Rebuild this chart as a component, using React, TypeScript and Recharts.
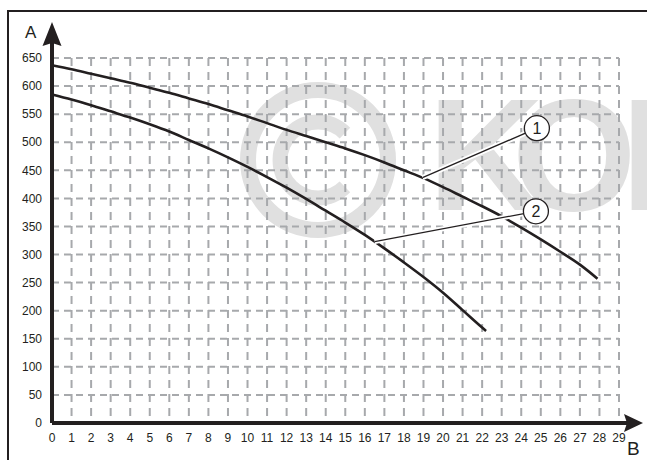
import { CartesianGrid, Line, LineChart, ReferenceDot, ReferenceLine, XAxis, YAxis } from 'recharts'

const INK = '#231f20'
const GRID = '#a7a9ac'
const MARK = '#e0e0e0'
const FONT = '"Liberation Sans", Arial, Helvetica, sans-serif'

// axis ticks
const flowTicks = [0, 1, 2, 3, 4, 5, 6, 7, 8, 9, 10, 11, 12, 13, 14, 15, 16, 17, 18, 19, 20, 21, 22, 23, 24, 25, 26, 27, 28, 29]
const headTicks = [0, 50, 100, 150, 200, 250, 300, 350, 400, 450, 500, 550, 600, 650]

// curve 1 (upper)
const curve1Flow = [0, 1, 2, 3, 4, 5, 6, 7, 8, 9, 10, 11, 12, 13, 14, 15, 16, 17, 18, 19, 20, 21, 22, 23, 24, 25, 26, 27, 27.9]
const curve1Head = [637, 630, 622, 614, 606, 597, 588, 578, 568, 557, 546, 534, 522, 511, 500, 489, 477, 464, 450, 436, 420, 403, 386, 368, 348, 327, 305, 282, 257]

// curve 2 (lower)
const curve2Flow = [0, 1, 2, 3, 4, 5, 6, 7, 8, 9, 10, 11, 12, 13, 14, 15, 16, 17, 18, 19, 20, 21, 22, 22.2]
const curve2Head = [585, 576, 566, 555, 544, 532, 519, 504, 489, 473, 456, 438, 419, 399, 378, 357, 335, 311, 286, 260, 232, 201, 170, 164]

// callouts: label, point on the curve, bubble
const calloutText = ['1', '2']
const calloutAtFlow = [18.95, 16.5]
const calloutAtHead = [437, 323]
const calloutBubbleFlow = [24.8, 24.75]
const calloutBubbleHead = [525, 377]

const curve1 = curve1Flow.map((q, i) => ({ q, h: curve1Head[i] }))
const curve2 = curve2Flow.map((q, i) => ({ q, h: curve2Head[i] }))

const tick = { fill: INK, fontSize: 12, fontFamily: FONT }

function UpArrow(props: any) {
  const { cx, cy } = props
  return (
    <g>
      <line x1={cx} y1={cy + 2} x2={cx} y2={cy - 16} stroke={INK} strokeWidth={4} />
      <polygon points={`${cx},${cy - 36} ${cx - 9.5},${cy - 12} ${cx},${cy - 15} ${cx + 9.5},${cy - 12}`} fill={INK} />
      <text x={cx - 27} y={cy - 20} fontSize={17} fontFamily={FONT} fill={INK}>A</text>
    </g>
  )
}

function RightArrow(props: any) {
  const { cx, cy } = props
  return (
    <g>
      <line x1={cx - 2} y1={cy} x2={cx + 8} y2={cy} stroke={INK} strokeWidth={4} />
      <polygon points={`${cx + 24},${cy} ${cx + 5},${cy - 9} ${cx + 8},${cy} ${cx + 5},${cy + 9}`} fill={INK} />
      <text x={cx + 8} y={cy + 32} fontSize={19} fontFamily={FONT} fill={INK}>B</text>
    </g>
  )
}

function Watermark() {
  return (
    <svg width={647} height={460} style={{ position: 'absolute', left: 0, top: 0 }}>
      <circle cx={318} cy={160} r={70} fill="none" stroke={MARK} strokeWidth={16} />
      <path d="M 344.9 133.1 A 38 38 0 1 0 344.9 186.9" fill="none" stroke={MARK} strokeWidth={15} />
      <g fontFamily={FONT} fontWeight="bold" fontSize={160} fill={MARK}>
        <text x={428} y={210}>K</text>
        <text x={512} y={210}>O</text>
        <text x={621} y={210}>N</text>
      </g>
    </svg>
  )
}

export default function App() {
  return (
    <div style={{ position: 'absolute', left: 0, top: 0, width: 647, height: 460, background: '#fff', overflow: 'hidden' }}>
      <Watermark />
      <div
        style={{
          position: 'absolute',
          left: 7,
          top: 10,
          width: 700,
          height: 500,
          borderTop: `2px solid ${INK}`,
          borderLeft: `2px solid ${INK}`,
        }}
      />
      <div style={{ position: 'absolute', left: 0, top: 0 }}>
        <LineChart width={647} height={460} margin={{ top: 58, right: 28, left: 0, bottom: 0 }}>
          <CartesianGrid horizontal vertical={false} stroke={GRID} strokeWidth={2} strokeDasharray="7 5" />
          <CartesianGrid horizontal={false} vertical stroke={GRID} strokeWidth={2} strokeDasharray="8 6" />
          <XAxis
            type="number"
            dataKey="q"
            domain={[0, 29]}
            ticks={flowTicks}
            interval={0}
            tick={tick}
            tickLine={false}
            tickMargin={4}
            axisLine={{ stroke: INK, strokeWidth: 4 }}
            height={37}
            allowDuplicatedCategory={false}
          />
          <YAxis
            type="number"
            dataKey="h"
            domain={[0, 650]}
            ticks={headTicks}
            interval={0}
            tick={tick}
            tickLine={false}
            tickMargin={4}
            axisLine={{ stroke: INK, strokeWidth: 4 }}
            width={52}
          />
          <Line data={curve1} dataKey="h" type="monotone" stroke={INK} strokeWidth={2.6} dot={false} activeDot={false} isAnimationActive={false} />
          <Line data={curve2} dataKey="h" type="monotone" stroke={INK} strokeWidth={2.6} dot={false} activeDot={false} isAnimationActive={false} />
          {calloutText.map((t, i) => (
            <ReferenceLine
              key={'halo' + t}
              segment={[
                { x: calloutAtFlow[i], y: calloutAtHead[i] },
                { x: calloutBubbleFlow[i], y: calloutBubbleHead[i] },
              ]}
              stroke="#fff"
              strokeWidth={5}
              ifOverflow="visible"
            />
          ))}
          {calloutText.map((t, i) => (
            <ReferenceLine
              key={'lead' + t}
              segment={[
                { x: calloutAtFlow[i], y: calloutAtHead[i] },
                { x: calloutBubbleFlow[i], y: calloutBubbleHead[i] },
              ]}
              stroke={INK}
              strokeWidth={1.3}
              ifOverflow="visible"
            />
          ))}
          {calloutText.map((t, i) => (
            <ReferenceDot
              key={'dot' + t}
              x={calloutBubbleFlow[i]}
              y={calloutBubbleHead[i]}
              r={12.5}
              fill="#fff"
              stroke={INK}
              strokeWidth={1.3}
              ifOverflow="visible"
              label={{ value: t, position: 'center', fontSize: 16, fontFamily: FONT, fill: INK }}
            />
          ))}
          <ReferenceDot x={0} y={650} r={0} shape={UpArrow} ifOverflow="visible" />
          <ReferenceDot x={29} y={0} r={0} shape={RightArrow} ifOverflow="visible" />
        </LineChart>
      </div>
    </div>
  )
}
